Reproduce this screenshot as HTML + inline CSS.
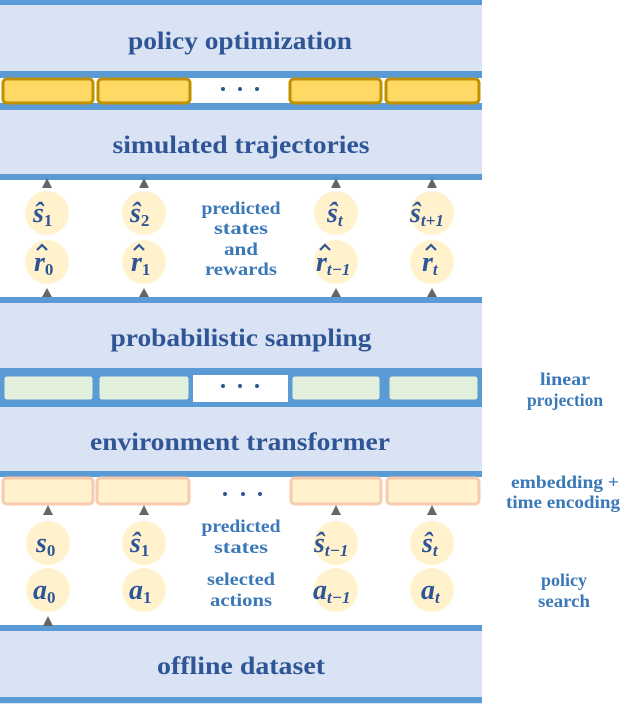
<!DOCTYPE html>
<html><head><meta charset="utf-8"><style>
body{margin:0;background:#fff}
svg{display:block}
.t{font-family:"Liberation Serif",serif;font-weight:bold;fill:#2f5597;font-size:25px;text-anchor:middle}
.l{font-family:"Liberation Serif",serif;font-weight:bold;fill:#3a78b8;font-size:18px;text-anchor:middle}
.m{font-family:"Liberation Serif",serif;font-weight:bold;font-style:italic;fill:#2f5597;font-size:28px}
.s{font-size:17px;font-style:normal}
.si{font-size:17px;font-style:italic}
</style></head><body>
<svg width="622" height="704" viewBox="0 0 622 704" xmlns="http://www.w3.org/2000/svg">
<rect x="0" y="0" width="482" height="78" fill="#dae3f3"/>
<rect x="0" y="103" width="482" height="77" fill="#dae3f3"/>
<rect x="0" y="298" width="482" height="179" fill="#dae3f3"/>
<rect x="0" y="625" width="482" height="79" fill="#dae3f3"/>
<g fill="#5b9bd5">
<rect x="0" y="0" width="482" height="5"/>
<rect x="0" y="71" width="482" height="7"/>
<rect x="0" y="103" width="482" height="7"/>
<rect x="0" y="174" width="482" height="6"/>
<rect x="0" y="297" width="482" height="6"/>
<rect x="0" y="368" width="482" height="39"/>
<rect x="0" y="471" width="482" height="6"/>
<rect x="0" y="625" width="482" height="6"/>
<rect x="0" y="697" width="482" height="6"/>
</g>
<rect x="192" y="78" width="96" height="25" fill="#fff"/>
<g fill="#ffd966" stroke="#bf9000" stroke-width="3">
<rect x="3" y="79" width="90" height="24" rx="4"/>
<rect x="98" y="79" width="92" height="24" rx="4"/>
<rect x="290" y="79" width="91" height="24" rx="4"/>
<rect x="386" y="79" width="93" height="24" rx="4"/>
</g>
<rect x="193" y="375" width="95" height="27" fill="#fff"/>
<g fill="#e2efda" stroke="#5b9bd5" stroke-width="1">
<rect x="4" y="376" width="89" height="24" rx="3"/>
<rect x="99" y="376" width="90" height="24" rx="3"/>
<rect x="292" y="376" width="88" height="24" rx="3"/>
<rect x="389" y="376" width="89" height="24" rx="3"/>
</g>
<g fill="#fff2cc" stroke="#f8cbad" stroke-width="3">
<rect x="3" y="478" width="90" height="26" rx="4"/>
<rect x="97" y="478" width="92" height="26" rx="4"/>
<rect x="291" y="478" width="90" height="26" rx="4"/>
<rect x="387" y="478" width="92" height="26" rx="4"/>
</g>
<g fill="#2f5597">
<circle cx="223" cy="89" r="2"/><circle cx="240" cy="89" r="2"/><circle cx="257" cy="89" r="2"/>
<circle cx="223" cy="386" r="2"/><circle cx="240" cy="386" r="2"/><circle cx="257" cy="386" r="2"/>
<circle cx="225" cy="494" r="2"/><circle cx="243" cy="494" r="2"/><circle cx="260" cy="494" r="2"/>
</g>
<text class="t" x="240" y="49" textLength="224" lengthAdjust="spacingAndGlyphs">policy optimization</text>
<text class="t" x="241" y="153" textLength="257" lengthAdjust="spacingAndGlyphs">simulated trajectories</text>
<text class="t" x="241" y="346" textLength="261" lengthAdjust="spacingAndGlyphs">probabilistic sampling</text>
<text class="t" x="240" y="450" textLength="300" lengthAdjust="spacingAndGlyphs">environment transformer</text>
<text class="t" x="241" y="674" textLength="168" lengthAdjust="spacingAndGlyphs">offline dataset</text>
<g fill="#fff2cc">
<circle cx="47" cy="213" r="22"/><circle cx="144" cy="213" r="22"/><circle cx="336" cy="213" r="22"/><circle cx="432" cy="213" r="22"/>
<circle cx="47" cy="262" r="22"/><circle cx="144" cy="262" r="22"/><circle cx="336" cy="262" r="22"/><circle cx="432" cy="262" r="22"/>
<circle cx="48" cy="543" r="22"/><circle cx="144" cy="543" r="22"/><circle cx="336" cy="543" r="22"/><circle cx="432" cy="543" r="22"/>
<circle cx="48" cy="590" r="22"/><circle cx="144" cy="590" r="22"/><circle cx="336" cy="590" r="22"/><circle cx="432" cy="590" r="22"/>
</g>
<g fill="#666">
<path d="M42 188 L47 178 L52 188Z"/><path d="M139 188 L144 178 L149 188Z"/><path d="M331 188 L336 178 L341 188Z"/><path d="M427 188 L432 178 L437 188Z"/>
<path d="M42 297 L47 288 L52 297Z"/><path d="M139 297 L144 288 L149 297Z"/><path d="M331 297 L336 288 L341 297Z"/><path d="M427 297 L432 288 L437 297Z"/>
<path d="M43 515 L48 505 L53 515Z"/><path d="M139 515 L144 505 L149 515Z"/><path d="M331 515 L336 505 L341 515Z"/><path d="M427 515 L432 505 L437 515Z"/>
<path d="M43 626 L48 616 L53 626Z"/>
</g>
<g class="m">
<text x="33" y="222">ŝ<tspan class="s" dy="4">1</tspan></text>
<text x="130" y="222">ŝ<tspan class="s" dy="4">2</tspan></text>
<text x="327" y="222">ŝ<tspan class="si" dy="4">t</tspan></text>
<text x="410" y="222">ŝ<tspan class="si" dy="4">t+1</tspan></text>
<text x="34" y="271">r<tspan class="s" dy="4">0</tspan></text>
<text x="131" y="271">r<tspan class="s" dy="4">1</tspan></text>
<text x="316" y="271">r<tspan class="si" dy="4">t−1</tspan></text>
<text x="422" y="271">r<tspan class="si" dy="4">t</tspan></text>
<text x="36" y="552">s<tspan class="s" dy="4">0</tspan></text>
<text x="130" y="552">ŝ<tspan class="s" dy="4">1</tspan></text>
<text x="314" y="552">ŝ<tspan class="si" dy="4">t−1</tspan></text>
<text x="422" y="552">ŝ<tspan class="si" dy="4">t</tspan></text>
<text x="33" y="599">a<tspan class="s" dy="4">0</tspan></text>
<text x="129" y="599">a<tspan class="s" dy="4">1</tspan></text>
<text x="313" y="599">a<tspan class="si" dy="4">t−1</tspan></text>
<text x="421" y="599">a<tspan class="si" dy="4">t</tspan></text>
</g>
<g fill="none" stroke="#2f5597" stroke-width="2.2">
<path d="M37 250 L42 245 L47 250"/><path d="M134 250 L139 245 L144 250"/><path d="M320 250 L325 245 L330 250"/><path d="M426 250 L431 245 L436 250"/>
</g>
<g class="l">
<text x="241" y="214" textLength="79" lengthAdjust="spacingAndGlyphs">predicted</text>
<text x="241" y="234" textLength="54" lengthAdjust="spacingAndGlyphs">states</text>
<text x="241" y="255" textLength="34" lengthAdjust="spacingAndGlyphs">and</text>
<text x="241" y="275" textLength="72" lengthAdjust="spacingAndGlyphs">rewards</text>
<text x="241" y="532" textLength="79" lengthAdjust="spacingAndGlyphs">predicted</text>
<text x="241" y="553" textLength="54" lengthAdjust="spacingAndGlyphs">states</text>
<text x="241" y="585" textLength="68" lengthAdjust="spacingAndGlyphs">selected</text>
<text x="241" y="606" textLength="62" lengthAdjust="spacingAndGlyphs">actions</text>
<text x="565" y="385" textLength="50" lengthAdjust="spacingAndGlyphs">linear</text>
<text x="565" y="406" textLength="76" lengthAdjust="spacingAndGlyphs">projection</text>
<text x="565" y="488" textLength="108" lengthAdjust="spacingAndGlyphs">embedding +</text>
<text x="563" y="508" textLength="114" lengthAdjust="spacingAndGlyphs">time encoding</text>
<text x="564" y="586" textLength="46" lengthAdjust="spacingAndGlyphs">policy</text>
<text x="564" y="607" textLength="52" lengthAdjust="spacingAndGlyphs">search</text>
</g>
</svg>
</body></html>
